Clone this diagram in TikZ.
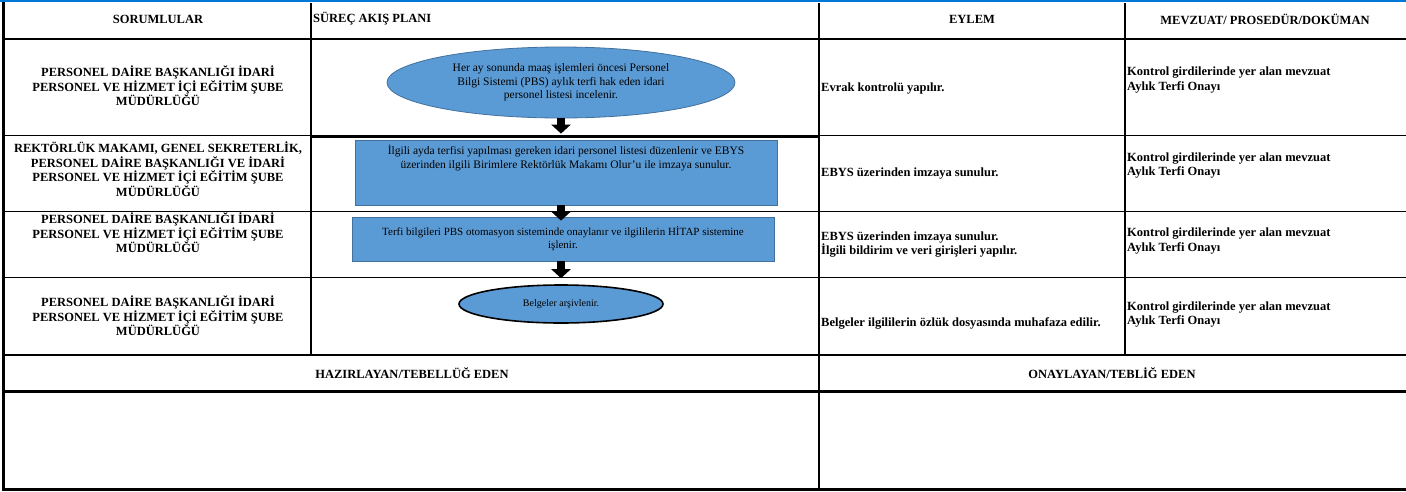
\documentclass[tikz,border=0pt]{standalone}
\usepackage{fontspec}
\setmainfont{Liberation Serif}
\usetikzlibrary{shapes.geometric,arrows.meta,calc}
\definecolor{flowblue}{RGB}{91,155,213}
\definecolor{flowedge}{RGB}{65,113,156}
\definecolor{topblue}{RGB}{0,120,215}
\begin{document}
\begin{tikzpicture}[x=1pt,y=-1pt,
  hdr/.style={font=\fontsize{12.5}{14.5}\selectfont\bfseries, inner sep=0pt},
  lefttxt/.style={font=\fontsize{12.5}{14.5}\selectfont\bfseries, align=center, inner sep=0pt},
  acttxt/.style={font=\fontsize{12.5}{14.5}\selectfont\bfseries, align=left, anchor=west, inner sep=0pt},
  flowtxt/.style={font=\fontsize{11.5}{13.5}\selectfont, align=center, inner sep=0pt},
  flowell/.style={ellipse, fill=flowblue, draw=flowedge, line width=0.8pt, inner sep=0pt, align=center,
                  font=\fontsize{11.5}{13.5}\selectfont},
  endell/.style={ellipse, fill=flowblue, draw=black, line width=1.6pt, inner sep=0pt,
                  font=\fontsize{10}{12}\selectfont},
  flowbox/.style={rectangle, fill=flowblue, draw=flowedge, line width=0.8pt, inner sep=0pt},
  blockarrow/.style={line width=7.5pt, -{Triangle[width=19pt,length=9pt]}},
  thin/.style={line width=1pt},
  mid/.style={line width=2pt},
  thick/.style={line width=3pt}
]
\useasboundingbox (0,0) rectangle (1406,491);

% table lines
\draw[topblue, line width=2.5pt] (0,1.2) -- (1406,1.2);
\draw[thick] (3.5,2) -- (3.5,491);
\draw[thick] (2,489) -- (1406,489);
\draw[mid] (3.5,38.5) -- (1406,38.5);
\draw[thin] (3.5,135) -- (310,135);
\draw[line width=3.5pt] (310,136.5) -- (819,136.5);
\draw[thin] (819,135) -- (1406,135);
\draw[thin] (3.5,211) -- (1406,211);
\draw[thin] (3.5,277) -- (1406,277);
\draw[line width=2.5pt] (3.5,355) -- (1406,355);
\draw[thick] (3.5,391) -- (1406,391);
\draw[mid] (310.5,3) -- (310.5,355);
\draw[mid] (819,3) -- (819,489);
\draw[line width=1.2pt] (1125,3) -- (1125,355);

% headers
\node[hdr] (h1) at (158,19) {SORUMLULAR};
\node[hdr, anchor=west] (h2) at (313,19) {SÜREÇ AKIŞ PLANI};
\node[hdr] (h3) at (972,19) {EYLEM};
\node[hdr] (h4) at (1265,19) {MEVZUAT/ PROSEDÜR/DOKÜMAN};
\node[hdr] (h5) at (412,373) {HAZIRLAYAN/TEBELLÜĞ EDEN};
\node[hdr] (h6) at (1112,373) {ONAYLAYAN/TEBLİĞ EDEN};

% responsible units
\node[lefttxt] (s1) at (158,86) {PERSONEL DAİRE BAŞKANLIĞI İDARİ\\PERSONEL VE HİZMET İÇİ EĞİTİM ŞUBE\\MÜDÜRLÜĞÜ};
\node[lefttxt] (s2) at (158,169) {REKTÖRLÜK MAKAMI, GENEL SEKRETERLİK,\\PERSONEL DAİRE BAŞKANLIĞI VE İDARİ\\PERSONEL VE HİZMET İÇİ EĞİTİM ŞUBE\\MÜDÜRLÜĞÜ};
\node[lefttxt] (s3) at (158,233) {PERSONEL DAİRE BAŞKANLIĞI İDARİ\\PERSONEL VE HİZMET İÇİ EĞİTİM ŞUBE\\MÜDÜRLÜĞÜ};
\node[lefttxt] (s4) at (158,316) {PERSONEL DAİRE BAŞKANLIĞI İDARİ\\PERSONEL VE HİZMET İÇİ EĞİTİM ŞUBE\\MÜDÜRLÜĞÜ};

% flow chart
\node[flowell, minimum width=348pt, minimum height=71pt] (e1) at (561,82.5)
  {Her ay sonunda maaş işlemleri öncesi Personel\\Bilgi Sistemi (PBS) aylık terfi hak eden idari\\personel listesi incelenir.};
\node[flowbox, minimum width=422pt, minimum height=65pt] (r2) at (566,172.5) {};
\node[flowtxt] (t2) at (566,158) {İlgili ayda terfisi yapılması gereken idari personel listesi düzenlenir ve EBYS\\üzerinden ilgili Birimlere Rektörlük Makamı Olur’u ile imzaya sunulur.};
\node[flowbox, minimum width=422pt, minimum height=44pt] (r3) at (563,239) {};
\node[flowtxt, font=\fontsize{11}{12.5}\selectfont] (t3) at (563,238.5) {Terfi bilgileri PBS otomasyon sisteminde onaylanır ve ilgililerin HİTAP sistemine\\işlenir.};
\node[endell, minimum width=204pt, minimum height=38pt] (e4) at (561,304) {Belgeler arşivlenir.};

\draw[blockarrow, shorten >=6pt] (e1.south) -- (e1.south |- r2.north);
\draw[blockarrow, shorten >=-4pt] (r2.south -| e1.south) -- (r3.north -| e1.south);
\draw[blockarrow, shorten >=6pt] (r3.south -| e4.north) -- (e4.north);

% actions
\node[acttxt] (a1) at (821,89) {Evrak kontrolü yapılır.};
\node[acttxt] (a2) at (821,174) {EBYS üzerinden imzaya sunulur.};
\node[acttxt] (a3) at (821,244.5) {EBYS üzerinden imzaya sunulur.\\İlgili bildirim ve veri girişleri yapılır.};
\node[acttxt] (a4) at (821,323) {Belgeler ilgililerin özlük dosyasında muhafaza edilir.};

% documents
\node[acttxt] (m1) at (1127,80) {Kontrol girdilerinde yer alan mevzuat\\Aylık Terfi Onayı};
\node[acttxt] (m2) at (1127,165.5) {Kontrol girdilerinde yer alan mevzuat\\Aylık Terfi Onayı};
\node[acttxt] (m3) at (1127,241) {Kontrol girdilerinde yer alan mevzuat\\Aylık Terfi Onayı};
\node[acttxt] (m4) at (1127,314.5) {Kontrol girdilerinde yer alan mevzuat\\Aylık Terfi Onayı};
\end{tikzpicture}
\end{document}
